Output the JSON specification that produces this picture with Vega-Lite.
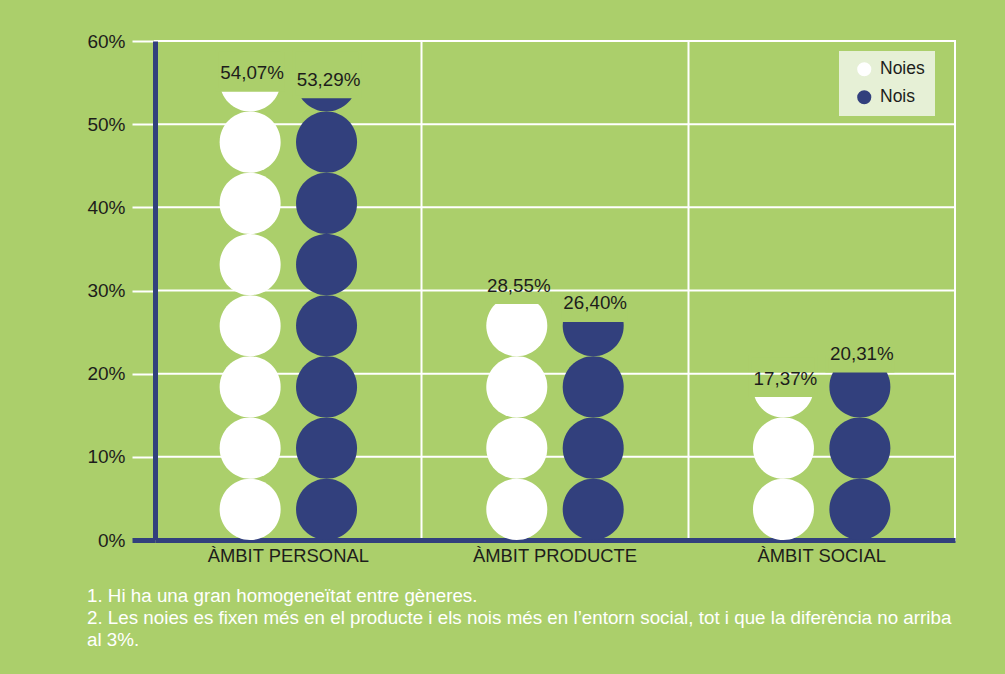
{
  "$schema": "https://vega.github.io/schema/vega-lite/v6.json",
  "width": 800,
  "height": 499,
  "autosize": {"type": "none"},
  "padding": {"left": 155, "top": 41, "right": 50, "bottom": 134},
  "background": "#abcf6b",
  "title": {
    "text": [
      "1. Hi ha una gran homogeneïtat entre gèneres.",
      "2. Les noies es fixen més en el producte i els nois més en l’entorn social, tot i que la diferència no arriba",
      "al 3%."
    ],
    "orient": "bottom",
    "anchor": "start",
    "frame": "bounds",
    "color": "#ffffff",
    "font": "Liberation Sans",
    "fontSize": 18.8,
    "fontWeight": "normal",
    "lineHeight": 22,
    "offset": 23
  },
  "datasets": {
    "bars": [
      {"ambit": "ÀMBIT PERSONAL", "genere": "Noies", "value": 0.5407, "icons": [0.0736, 0.0736, 0.0736, 0.0736, 0.0736, 0.0736, 0.0736, 0.0736]},
      {"ambit": "ÀMBIT PERSONAL", "genere": "Nois", "value": 0.5329, "icons": [0.0736, 0.0736, 0.0736, 0.0736, 0.0736, 0.0736, 0.0736, 0.0736]},
      {"ambit": "ÀMBIT PRODUCTE", "genere": "Noies", "value": 0.2855, "icons": [0.0736, 0.0736, 0.0736, 0.0736]},
      {"ambit": "ÀMBIT PRODUCTE", "genere": "Nois", "value": 0.2640, "icons": [0.0736, 0.0736, 0.0736, 0.0736]},
      {"ambit": "ÀMBIT SOCIAL", "genere": "Noies", "value": 0.1737, "icons": [0.0736, 0.0736, 0.0736]},
      {"ambit": "ÀMBIT SOCIAL", "genere": "Nois", "value": 0.2031, "icons": [0.0736, 0.0736, 0.0736]}
    ],
    "grid": [{"pct": 0.1}, {"pct": 0.2}, {"pct": 0.3}, {"pct": 0.4}, {"pct": 0.5}, {"pct": 0.6}]
  },
  "config": {
    "locale": {"number": {"decimal": ",", "thousands": ".", "grouping": [3], "currency": ["", " €"]}},
    "font": "Liberation Sans",
    "view": {"stroke": "#ffffff", "strokeWidth": 2}
  },
  "layer": [
    {
      "data": {"name": "bars"},
      "transform": [
        {"filter": "datum.genere === 'Noies'"},
        {"flatten": ["icons"]},
        {"stack": "icons", "groupby": ["ambit", "genere"], "as": ["lo", "hi"]}
      ],
      "mark": {"type": "bar", "width": 61, "cornerRadius": 30.5},
      "encoding": {
        "x": {
          "field": "ambit", "type": "nominal",
          "sort": ["ÀMBIT PERSONAL", "ÀMBIT PRODUCTE", "ÀMBIT SOCIAL"],
          "scale": {"paddingInner": 0, "paddingOuter": 0},
          "axis": {
            "title": null, "labelAngle": 0, "ticks": false,
            "domainColor": "#32407d", "domainWidth": 5,
            "grid": true, "gridColor": "#ffffff", "gridWidth": 2, "bandPosition": 0,
            "labelFont": "Liberation Sans", "labelFontSize": 18.4, "labelColor": "#1d1d1b", "labelPadding": 6,
            "zindex": 0
          }
        },
        "xOffset": {"field": "genere", "type": "nominal", "scale": {"domain": ["Noies", "Nois"], "paddingInner": 0, "paddingOuter": 0.745}},
        "y": {
          "field": "lo", "type": "quantitative",
          "scale": {"domain": [0, 0.6], "nice": false},
          "axis": {
            "title": null, "values": [0, 0.1, 0.2, 0.3, 0.4, 0.5, 0.6], "format": ".0%",
            "grid": false, "zindex": 1,
            "domainColor": "#32407d", "domainWidth": 5,
            "tickColor": {"condition": {"test": "datum.value === 0", "value": "#32407d"}, "value": "#ffffff"},
            "tickWidth": {"condition": {"test": "datum.value === 0", "value": 5}, "value": 2},
            "tickSize": 23,
            "labelPadding": 7, "labelFont": "Liberation Sans", "labelFontSize": 19, "labelColor": "#1d1d1b"
          }
        },
        "y2": {"field": "hi"},
        "color": {
          "field": "genere", "type": "nominal",
          "scale": {"domain": ["Noies", "Nois"], "range": ["#ffffff", "#32407d"]},
          "legend": {
            "title": null, "orient": "none", "legendX": 684, "legendY": 10,
            "fillColor": "#e6f0d6", "padding": 9.5, "rowPadding": 9,
            "symbolType": "circle", "symbolSize": 200, "symbolStrokeWidth": 0, "symbolOffset": 7,
            "labelOffset": 7, "labelFont": "Liberation Sans", "labelFontSize": 17.5, "labelColor": "#1d1d1b"
          }
        }
      }
    },
    {
      "data": {"name": "bars"},
      "transform": [
        {"filter": "datum.genere === 'Noies'"},
        {"flatten": ["icons"]},
        {"aggregate": [{"op": "sum", "field": "icons", "as": "cap"}], "groupby": ["ambit", "genere", "value"]}
      ],
      "mark": {"type": "bar", "width": 66, "fill": "#abcf6b", "stroke": "#abcf6b", "strokeWidth": 3},
      "encoding": {
        "x": {"field": "ambit", "type": "nominal", "sort": ["ÀMBIT PERSONAL", "ÀMBIT PRODUCTE", "ÀMBIT SOCIAL"]},
        "xOffset": {"field": "genere", "type": "nominal"},
        "y": {"field": "value", "type": "quantitative"},
        "y2": {"field": "cap"}
      }
    },
    {
      "data": {"name": "grid"},
      "mark": {"type": "rule", "color": "#ffffff", "strokeWidth": 2},
      "encoding": {
        "y": {"field": "pct", "type": "quantitative"}
      }
    },
    {
      "data": {"name": "bars"},
      "transform": [
        {"filter": "datum.genere === 'Nois'"},
        {"flatten": ["icons"]},
        {"stack": "icons", "groupby": ["ambit", "genere"], "as": ["lo", "hi"]}
      ],
      "mark": {"type": "bar", "width": 61, "cornerRadius": 30.5},
      "encoding": {
        "x": {"field": "ambit", "type": "nominal", "sort": ["ÀMBIT PERSONAL", "ÀMBIT PRODUCTE", "ÀMBIT SOCIAL"]},
        "xOffset": {"field": "genere", "type": "nominal"},
        "y": {"field": "lo", "type": "quantitative"},
        "y2": {"field": "hi"},
        "color": {"field": "genere", "type": "nominal"}
      }
    },
    {
      "data": {"name": "bars"},
      "transform": [
        {"filter": "datum.genere === 'Nois'"},
        {"flatten": ["icons"]},
        {"aggregate": [{"op": "sum", "field": "icons", "as": "cap"}], "groupby": ["ambit", "genere", "value"]}
      ],
      "mark": {"type": "bar", "width": 66, "fill": "#abcf6b", "stroke": "#abcf6b", "strokeWidth": 3},
      "encoding": {
        "x": {"field": "ambit", "type": "nominal", "sort": ["ÀMBIT PERSONAL", "ÀMBIT PRODUCTE", "ÀMBIT SOCIAL"]},
        "xOffset": {"field": "genere", "type": "nominal"},
        "y": {"field": "value", "type": "quantitative"},
        "y2": {"field": "cap"}
      }
    },
    {
      "data": {"name": "bars"},
      "mark": {"type": "text", "baseline": "alphabetic", "dy": -11, "dx": 2, "fontSize": 18.8, "font": "Liberation Sans", "color": "#1d1d1b"},
      "encoding": {
        "x": {"field": "ambit", "type": "nominal", "sort": ["ÀMBIT PERSONAL", "ÀMBIT PRODUCTE", "ÀMBIT SOCIAL"]},
        "xOffset": {"field": "genere", "type": "nominal"},
        "y": {"field": "value", "type": "quantitative"},
        "text": {"field": "value", "type": "quantitative", "format": ".2%"}
      }
    }
  ]
}
